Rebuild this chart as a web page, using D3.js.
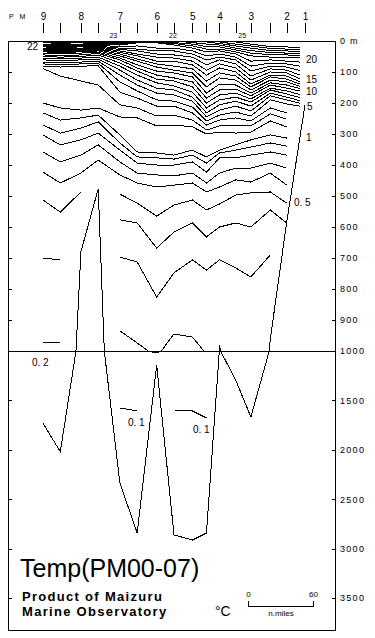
<!DOCTYPE html>
<html>
<head>
<meta charset="utf-8">
<script src="https://cdn.jsdelivr.net/npm/d3@7/dist/d3.min.js"></script>
<style>
  html, body { margin: 0; padding: 0; background: #fff; }
  svg { display: block; }
  text { font-family: "Liberation Sans", Arial, sans-serif; fill: #000; }
</style>
</head>
<body>
<div id="chart"></div>
<script>
// stations along the section, distance in n.miles from PM9
const stationDist = [0, 16, 35, 51, 71, 87, 105, 121, 138, 151, 163, 178, 192, 210, 225, 242];
const stationNames = ['9', '', '8', '', '7', '', '6', '', '5', '', '4', '', '3', '', '2', '1'];
// sea floor depth (m) at each station
const bottomDepth = [1730, 2020, 680, 477, 2336, 2842, 1142, 2862, 2913, 2842, 980, 1294, 1668, 960, 587, 206];

const depthTicksUpper = [0, 100, 200, 300, 400, 500, 600, 700, 800, 900, 1000];
const depthTicksLower = [1500, 2000, 2500, 3000, 3500];

// isotherm depths (m) at each station, null = no line there
const t25 = [null, null, null, null, null, null, null, null, null, null, 0, 3, 10, 18, 19, 23];
const t24 = [null, null, null, null, null, null, null, null, null, 0, 3, 10, 16, 24, 26, 29];
const t23 = [null, null, null, 0, 3, 0, null, null, null, 3, 8, 16, 23, 31, 32, 35];
const t22 = [3, 4, 3, 3, 5, 1, 2, 0, 5, 10, 13, 23, 31, 37, 39, 42];
const t21 = [6, 7, 6, 5, 8, 2, 3, 5, 10, 18, 19, 29, 39, 44, 45, 48];
const t20 = [10, 11, 10, 8, 10, 3, 5, 8, 16, 26, 26, 35, 48, 52, 52, 56];
const t19 = [13, 14, 13, 11, 13, 6, 6, 13, 23, 35, 32, 42, 65, 61, 65, 69];
const t18 = [16, 17, 16, 14, 18, 16, 23, 23, 32, 48, 42, 52, 81, 71, 74, 84];
const t17 = [19, 21, 19, 17, 23, 26, 32, 32, 42, 61, 52, 61, 97, 81, 84, 100];
const t16 = [23, 24, 23, 20, 27, 32, 42, 45, 52, 77, 61, 74, 113, 90, 94, 116];
const t15 = [26, 27, 26, 23, 32, 42, 52, 55, 65, 94, 74, 87, 126, 100, 103, 129];
const t14 = [29, 31, 29, 26, 37, 48, 65, 65, 77, 110, 87, 100, 139, 110, 113, 139];
const t13 = [32, 34, 32, 29, 42, 58, 74, 81, 90, 129, 103, 113, 148, 116, 123, 145];
const t12 = [35, 37, 35, 32, 48, 65, 84, 94, 103, 148, 119, 126, 158, 126, 132, 152];
const t11 = [39, 40, 39, 36, 55, 77, 97, 103, 116, 168, 139, 142, 168, 135, 142, 158];
const t10 = [45, 47, 45, 40, 61, 87, 110, 119, 132, 184, 158, 155, 177, 142, 152, 165];
const t9 = [50, 52, 50, 45, 71, 97, 123, 129, 148, 200, 174, 168, 187, 152, 161, 177];
const t8 = [55, 57, 55, 52, 81, 110, 135, 145, 165, 216, 190, 181, 197, 158, 171, 187];
const t7 = [61, 63, 61, 58, 94, 126, 152, 158, 181, 232, 206, 194, 210, 168, 181, 197];
const t6 = [68, 69, 68, 65, 110, 142, 168, 174, 194, 245, 223, 210, 226, 177, 190, 205];
const t5 = [74, 76, 74, 72, 132, 161, 190, 194, 213, 258, 239, 229, 242, 190, 203, 213];
const t4 = [81, 84, 81, 80, 165, 184, 210, 210, 232, 271, 255, 248, 258, 216, 232, null];
const t3 = [89, 113, 129, 142, 206, 216, 242, 239, 255, 287, 274, 271, 274, 235, 252, null];
const t2 = [200, 216, 223, 216, 245, 248, 274, 271, 277, 300, 294, 297, 294, 258, 277, null];
const t1 = [232, 255, 248, 239, 303, 358, 361, 368, 352, 374, 352, 335, 319, 303, 313, null];
const t09 = [271, 297, 281, 261, 329, 374, 377, 381, 368, 394, 361, 352, 342, 329, 339, null];
const t08 = [303, 335, 319, 297, 352, 394, 400, 400, 390, 423, 377, 377, 368, 358, 368, null];
const t07 = [358, 390, 368, 335, 390, 426, 432, 435, 426, 458, 426, 410, 410, 394, 410, null];
const t06 = [423, 458, 426, 384, 432, 458, 471, 465, 458, 487, 471, 448, 455, 426, 465, null];
const t05 = [513, 552, 487, null, 494, 523, 565, 529, 513, 545, 526, 497, 490, 487, 523, null];
const t04 = [null, null, null, null, 577, 587, 668, 616, 587, 632, 600, 587, 600, 545, 587, null];
const t03 = [700, 706, null, null, 697, 713, 826, 748, 706, 739, 706, 732, 761, 690, null, null];
const t02 = [974, 974, null, null, 935, 974, 1020, 945, 955, 1010, null, 1010, 1010, null, null, null];
const t01 = [null, null, null, null, 1577, 1607, null, 1597, 1607, 1678, null, null, null, null, null, null];

const isotherms = [t25, t24, t23, t22, t21, t20, t19, t18, t17, t16, t15, t14, t13, t12, t11,
  t10, t9, t8, t7, t6, t5, t4, t3, t2, t1, t09, t08, t07, t06, t05, t04, t03, t02, t01];

// surface temperatures written above the frame
const surfaceLabels = [{ d: 65, t: '23' }, { d: 120, t: '22' }, { d: 184, t: '25' }];

const W = 375, H = 638;
const frameL = 8, frameR = 335, frameT = 41, frameB = 630;

const svg = d3.select('#chart').append('svg')
  .attr('width', W)
  .attr('height', H);

const x = d3.scaleLinear().domain([0, 242]).range([43, 305]);
// depth axis changes scale at 1000 m
const y = d3.scaleLinear().domain([0, 1000, 3500]).range([41, 351, 598]);

// add a vertex where a segment crosses 1000 m so the line bends at the scale break
function toPoints(depths) {
  const pts = [];
  depths.forEach((d, i) => {
    if (d == null) { pts.push(null); return; }
    const prev = i > 0 ? depths[i - 1] : null;
    if (prev != null && (prev - 1000) * (d - 1000) < 0) {
      const t = (1000 - prev) / (d - prev);
      pts.push([stationDist[i - 1] + t * (stationDist[i] - stationDist[i - 1]), 1000]);
    }
    pts.push([stationDist[i], d]);
  });
  return pts;
}

const line = d3.line()
  .defined(p => p != null)
  .x(p => x(p[0]))
  .y(p => y(p[1]));

svg.append('defs').append('clipPath').attr('id', 'isoclip')
  .append('rect')
  .attr('x', frameL).attr('y', frameT - 1)
  .attr('width', 300 - frameL).attr('height', frameB - frameT);

// isotherms
svg.append('g')
  .attr('clip-path', 'url(#isoclip)')
  .selectAll('path')
  .data(isotherms)
  .enter()
  .append('path')
  .attr('d', d => line(toPoints(d)))
  .attr('fill', 'none')
  .attr('stroke', '#000')
  .attr('stroke-width', 1);

// sea floor
svg.append('path')
  .attr('d', line(toPoints(bottomDepth)))
  .attr('fill', 'none')
  .attr('stroke', '#000')
  .attr('stroke-width', 1);

// frame and 1000 m break line
svg.append('rect')
  .attr('x', frameL + 0.5).attr('y', frameT + 0.5)
  .attr('width', frameR - frameL).attr('height', frameB - frameT)
  .attr('fill', 'none').attr('stroke', '#000');

svg.append('line')
  .attr('x1', frameL).attr('x2', frameR)
  .attr('y1', Math.round(y(1000)) + 0.5).attr('y2', Math.round(y(1000)) + 0.5)
  .attr('stroke', '#000');

// right depth axis
const yAxis = d3.axisRight(y)
  .tickValues(depthTicksUpper.concat(depthTicksLower))
  .tickSizeInner(-3)
  .tickSizeOuter(0)
  .tickPadding(5)
  .tickFormat(d => d === 0 ? '0 m' : d);

const ya = svg.append('g')
  .attr('transform', `translate(${frameR},0)`)
  .call(yAxis);
ya.select('.domain').remove();
ya.selectAll('text')
  .attr('font-family', '"Liberation Sans", Arial, sans-serif')
  .attr('font-size', 9)
  .attr('letter-spacing', 1.3);

// left inward ticks
const yl = svg.append('g')
  .attr('transform', `translate(${frameL + 1},0)`)
  .call(d3.axisRight(y)
    .tickValues(depthTicksUpper.slice(1, -1).concat(depthTicksLower))
    .tickSizeInner(3).tickSizeOuter(0)
    .tickFormat(''));
yl.select('.domain').remove();

// station ticks and numbers on top
const xa = svg.append('g')
  .attr('transform', 'translate(0,33)')
  .call(d3.axisTop(x)
    .tickValues(stationDist)
    .tickSizeInner(10).tickSizeOuter(0)
    .tickPadding(3)
    .tickFormat((d, i) => stationNames[i]));
xa.select('.domain').remove();
xa.selectAll('text')
  .attr('font-family', '"Liberation Sans", Arial, sans-serif')
  .attr('font-size', 10);

svg.append('text')
  .attr('x', 9).attr('y', 19)
  .attr('font-size', 7)
  .attr('letter-spacing', 2)
  .text('P M');

svg.selectAll('.surf')
  .data(surfaceLabels)
  .enter()
  .append('text')
  .attr('class', 'surf')
  .attr('x', d => x(d.d))
  .attr('y', 38)
  .attr('text-anchor', 'middle')
  .attr('font-size', 7)
  .text(d => d.t);

// contour labels
const isoText = svg.append('g').attr('font-size', 10);
isoText.append('text').attr('x', 27).attr('y', 50).text('22');
isoText.append('text').attr('x', 306).attr('y', 63).text('20');
isoText.append('text').attr('x', 306).attr('y', 83).text('15');
isoText.append('text').attr('x', 306).attr('y', 95).text('10');
isoText.append('text').attr('x', 307).attr('y', 110).text('5');
isoText.append('text').attr('x', 306).attr('y', 141).text('1');
isoText.append('text').attr('x', 294).attr('y', 206).text('0. 5');
isoText.append('text').attr('x', 32).attr('y', 366).text('0. 2');
isoText.append('text').attr('x', 128).attr('y', 426).text('0. 1');
isoText.append('text').attr('x', 193).attr('y', 433).text('0. 1');

// title block
svg.append('text')
  .attr('x', 20).attr('y', 577)
  .attr('font-size', 25)
  .text('Temp(PM00-07)');

svg.append('text')
  .attr('x', 22).attr('y', 601)
  .attr('font-size', 13).attr('font-weight', 'bold')
  .attr('letter-spacing', 1.3)
  .text('Product of Maizuru');

svg.append('text')
  .attr('x', 22).attr('y', 616)
  .attr('font-size', 13).attr('font-weight', 'bold')
  .attr('letter-spacing', 1.3)
  .text('Marine Observatory');

svg.append('text')
  .attr('x', 215).attr('y', 616)
  .attr('font-size', 14)
  .text('°C');

// distance scale bar, 60 n.miles
const barX = 248.5, barY = 606.5;
const barLen = x(60) - x(0);
svg.append('path')
  .attr('d', `M${barX},${barY - 6}V${barY}H${barX + barLen}V${barY - 6}`)
  .attr('fill', 'none')
  .attr('stroke', '#000');
svg.append('text').attr('x', barX).attr('y', 597).attr('text-anchor', 'middle').attr('font-size', 8).text('0');
svg.append('text').attr('x', barX + barLen).attr('y', 597).attr('text-anchor', 'middle').attr('font-size', 8).text('60');
svg.append('text').attr('x', barX + barLen / 2).attr('y', 616).attr('text-anchor', 'middle').attr('font-size', 8).text('n.miles');

svg.selectAll('line, path, rect').attr('shape-rendering', 'crispEdges');
</script>
</body>
</html>
